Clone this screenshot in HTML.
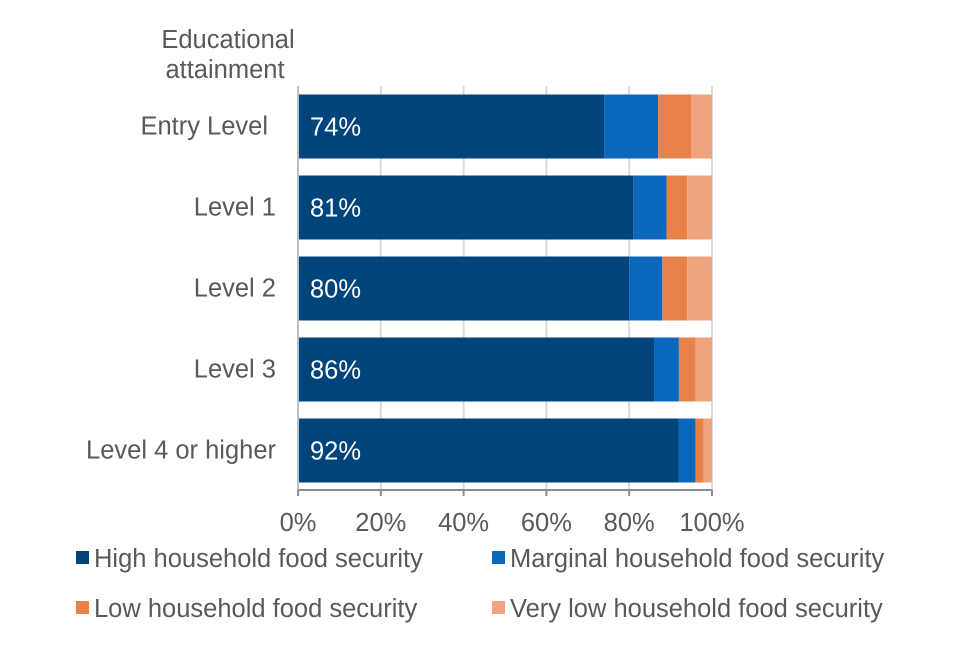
<!DOCTYPE html>
<html><head><meta charset="utf-8"><style>
body{margin:0;background:#fff;font-family:"Liberation Sans",Arial,sans-serif}
svg text{font-family:"Liberation Sans",Arial,sans-serif;fill:#595959}
</style></head><body>
<svg id="c" width="960" height="640"></svg>
<script>
const categories=["Entry Level","Level 1","Level 2","Level 3","Level 4 or higher"];
const high=[74,81,80,86,92];
const marginal=[13,8,8,6,4];
const low=[8,5,6,4,2];
const veryLow=[5,6,6,4,2];
const ticks=[0,20,40,60,80,100];
const seriesNames=["High household food security","Marginal household food security","Low household food security","Very low household food security"];
const colors=["#00447c","#0a67bb","#e8804a","#f0a47e"];
const NS="http://www.w3.org/2000/svg",svg=document.getElementById('c');
const FS=25.5;
const x0=298,x1=712,xs=v=>x0+(x1-x0)*v/100;
const yTop=86,band=81,barH=64,ys=i=>yTop+i*band+(band-barH)/2;
function el(t,a,p){const e=document.createElementNS(NS,t);for(const k in a)e.setAttribute(k,a[k]);(p||svg).appendChild(e);return e;}
ticks.forEach(t=>{if(t>0){const g=el('line',{x1:xs(t),x2:xs(t),y1:yTop,y2:490,stroke:'#d9d9d9','stroke-width':2});

}});
const series=[high,marginal,low,veryLow];
categories.forEach((c,i)=>{let acc=0;series.forEach((s,j)=>{const r=el('rect',{x:xs(acc),y:ys(i),width:xs(acc+s[i])-xs(acc),height:barH,fill:colors[j]});

acc+=s[i];});
const v=el('text',{x:310,y:ys(i)+barH/2+9,'font-size':FS,style:'fill:#fff'});v.textContent=high[i]+'%';


const l=el('text',{x:i===0?268:276,y:ys(i)+barH/2+8,'font-size':FS,'text-anchor':'end'});l.textContent=c;

});
el('line',{x1:x0,x2:x0,y1:yTop,y2:490,stroke:'#bfbfbf','stroke-width':2});
const ax=el('line',{x1:x0,x2:x1,y1:490,y2:490,stroke:'#8c8c8c','stroke-width':2});


ticks.forEach(t=>{el('line',{x1:xs(t),x2:xs(t),y1:490,y2:496,stroke:'#8c8c8c','stroke-width':2});
const tx=el('text',{x:xs(t),y:531,'font-size':FS,'text-anchor':'middle'});tx.textContent=t+'%';

});
const t1=el('text',{x:228,y:48,'font-size':FS,'text-anchor':'middle'});t1.textContent='Educational';
const t2=el('text',{x:225,y:78,'font-size':FS,'text-anchor':'middle'});t2.textContent='attainment';


const lp=[[76,558],[492,558],[76,608],[492,608]];
seriesNames.forEach((n,j)=>{const g=el('g',{});


el('rect',{x:lp[j][0],y:lp[j][1]-7,width:13,height:13,fill:colors[j]},g);
const t=el('text',{x:lp[j][0]+18,y:lp[j][1]+9,'font-size':FS},g);t.textContent=n;});
</script>
</body></html>
